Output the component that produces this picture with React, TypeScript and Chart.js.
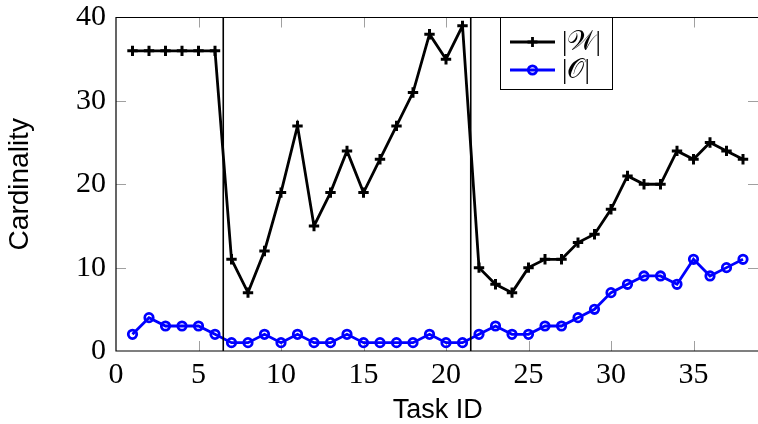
import React, { useEffect, useRef } from "react";
import { Chart, registerables } from "chart.js";

Chart.register(...registerables);

const taskIds = [1,2,3,4,5,6,7,8,9,10,11,12,13,14,15,16,17,18,19,20,21,22,23,24,25,26,27,28,29,30,31,32,33,34,35,36,37,38];
const wValues = [36,36,36,36,36,36,11,7,12,19,27,15,19,24,19,23,27,31,38,35,39,10,8,7,10,11,11,13,14,17,21,20,20,24,23,25,24,23];
const oValues = [2,4,3,3,3,2,1,1,2,1,2,1,1,2,1,1,1,1,2,1,1,2,3,2,2,3,3,4,5,7,8,9,9,8,11,9,10,11];
const xTicks = [0,5,10,15,20,25,30,35];
const yTicks = [0,10,20,30,40];
const separators = [6.5, 21.5];
const seriesLabels = ["|\u{1D4B2}|", "|\u{1D4AA}|"];

const SERIF = "'Liberation Serif', 'DejaVu Serif', serif";
const SANS = "'Liberation Sans', Arial, sans-serif";

const framePlugin = {
  id: "frame",
  beforeDatasetsDraw(chart: any) {
    const { ctx, chartArea: a, scales } = chart;
    const xs = scales.x, ys = scales.y;
    ctx.save();
    ctx.strokeStyle = "#a0a0a0";
    ctx.lineWidth = 1;
    const tl = 10;
    for (const t of xTicks) {
      if (t === 0) continue;
      const px = Math.round(xs.getPixelForValue(t)) + 0.5;
      ctx.beginPath();
      ctx.moveTo(px, a.bottom); ctx.lineTo(px, a.bottom - tl);
      ctx.moveTo(px, a.top); ctx.lineTo(px, a.top + tl);
      ctx.stroke();
    }
    for (const t of yTicks) {
      if (t === 0 || t === 40) continue;
      const py = Math.round(ys.getPixelForValue(t)) + 0.5;
      ctx.beginPath();
      ctx.moveTo(a.left, py); ctx.lineTo(a.left + tl, py);
      ctx.moveTo(758, py); ctx.lineTo(748, py);
      ctx.stroke();
    }
    ctx.restore();
  },
  afterDatasetsDraw(chart: any) {
    const { ctx, chartArea: a, scales } = chart;
    const xs = scales.x;
    ctx.save();
    ctx.strokeStyle = "#000";
    ctx.lineWidth = 1.6;
    for (const s of separators) {
      const px = xs.getPixelForValue(s);
      ctx.beginPath();
      ctx.moveTo(px, a.bottom); ctx.lineTo(px, a.top);
      ctx.stroke();
    }
    ctx.lineWidth = 1.2;
    ctx.beginPath();
    ctx.moveTo(770, a.top); ctx.lineTo(a.left, a.top);
    ctx.lineTo(a.left, a.bottom); ctx.lineTo(770, a.bottom);
    ctx.stroke();

    // legend
    const lx = 500.5, ly = a.top, lw = 112, lh = 72;
    ctx.fillStyle = "#fff";
    ctx.fillRect(lx, ly, lw, lh);
    ctx.lineWidth = 1;
    ctx.strokeStyle = "#000";
    ctx.strokeRect(lx, ly, lw, lh);
    const rows = [
      { y: 42, color: "#000", style: "cross" },
      { y: 70, color: "#0000ff", style: "circle" },
    ];
    rows.forEach((r, i) => {
      ctx.strokeStyle = r.color;
      ctx.lineWidth = 2.8;
      ctx.beginPath();
      ctx.moveTo(510, r.y); ctx.lineTo(555, r.y);
      ctx.stroke();
      ctx.beginPath();
      if (r.style === "cross") {
        ctx.moveTo(532.5, r.y - 5); ctx.lineTo(532.5, r.y + 5);
        ctx.moveTo(527.5, r.y); ctx.lineTo(537.5, r.y);
      } else {
        ctx.arc(532.5, r.y, 4.2, 0, Math.PI * 2);
      }
      ctx.stroke();
      ctx.fillStyle = "#000";
      ctx.font = `27px ${SERIF}`;
      ctx.textBaseline = "middle";
      ctx.textAlign = "left";
      ctx.fillText(seriesLabels[i], 562, r.y + 1);
    });
    ctx.restore();
  },
};

export default function App() {
  const ref = useRef<HTMLCanvasElement>(null);
  useEffect(() => {
    const canvas = ref.current!;
    const chart = new Chart(canvas, {
      type: "line",
      data: {
        datasets: [
          {
            label: seriesLabels[0],
            data: taskIds.map((x, i) => ({ x, y: wValues[i] })),
            borderColor: "#000",
            backgroundColor: "#000",
            borderWidth: 2.8,
            pointStyle: "cross",
            pointRadius: 5.2,
            pointBorderWidth: 3,
            pointBorderColor: "#000",
            tension: 0,
          },
          {
            label: seriesLabels[1],
            data: taskIds.map((x, i) => ({ x, y: oValues[i] })),
            borderColor: "#0000ff",
            backgroundColor: "rgba(0,0,0,0)",
            borderWidth: 2.8,
            pointStyle: "circle",
            pointRadius: 4.2,
            pointBorderWidth: 2.8,
            pointBorderColor: "#0000ff",
            pointBackgroundColor: "rgba(0,0,0,0)",
            tension: 0,
          },
        ],
      },
      options: {
        responsive: false,
        animation: false,
        devicePixelRatio: 1,
        layout: { padding: { left: 0, top: 17.5, right: 10.5, bottom: 0 } },
        plugins: { legend: { display: false }, tooltip: { enabled: false } },
        scales: {
          x: {
            type: "linear",
            min: 0,
            max: 39,
            grid: { display: false, drawTicks: false },
            border: { display: false },
            afterBuildTicks: (s: any) => { s.ticks = xTicks.map((v) => ({ value: v })); },
            afterFit: (s: any) => { s.height = 73; s.paddingLeft = 0; s.paddingRight = 0; },
            ticks: {
              color: "#000",
              padding: 6,
              font: { family: SERIF, size: 30 },
              maxRotation: 0,
              autoSkip: false,
            },
            title: {
              display: true,
              text: "Task ID",
              color: "#000",
              font: { family: SANS, size: 27, lineHeight: 1 },
              padding: 0,
            },
          },
          y: {
            type: "linear",
            min: 0,
            max: 40,
            grid: { display: false, drawTicks: false },
            border: { display: false },
            afterBuildTicks: (s: any) => { s.ticks = yTicks.map((v) => ({ value: v })); },
            afterFit: (s: any) => { s.width = 116; s.paddingTop = 0; s.paddingBottom = 0; },
            ticks: {
              color: "#000",
              padding: 10,
              font: { family: SERIF, size: 30 },
            },
            title: {
              display: true,
              text: "Cardinality",
              color: "#000",
              font: { family: SANS, size: 28, lineHeight: 1 },
              padding: { top: 6, bottom: 0 },
            },
          },
        },
      },
      plugins: [framePlugin],
    });
    return () => chart.destroy();
  }, []);
  return (
    <div style={{ position: "absolute", left: 0, top: 0, width: 758, height: 424, overflow: "hidden", background: "#fff" }}>
      <canvas ref={ref} width={770} height={424} style={{ width: 770, height: 424, display: "block" }} />
    </div>
  );
}
